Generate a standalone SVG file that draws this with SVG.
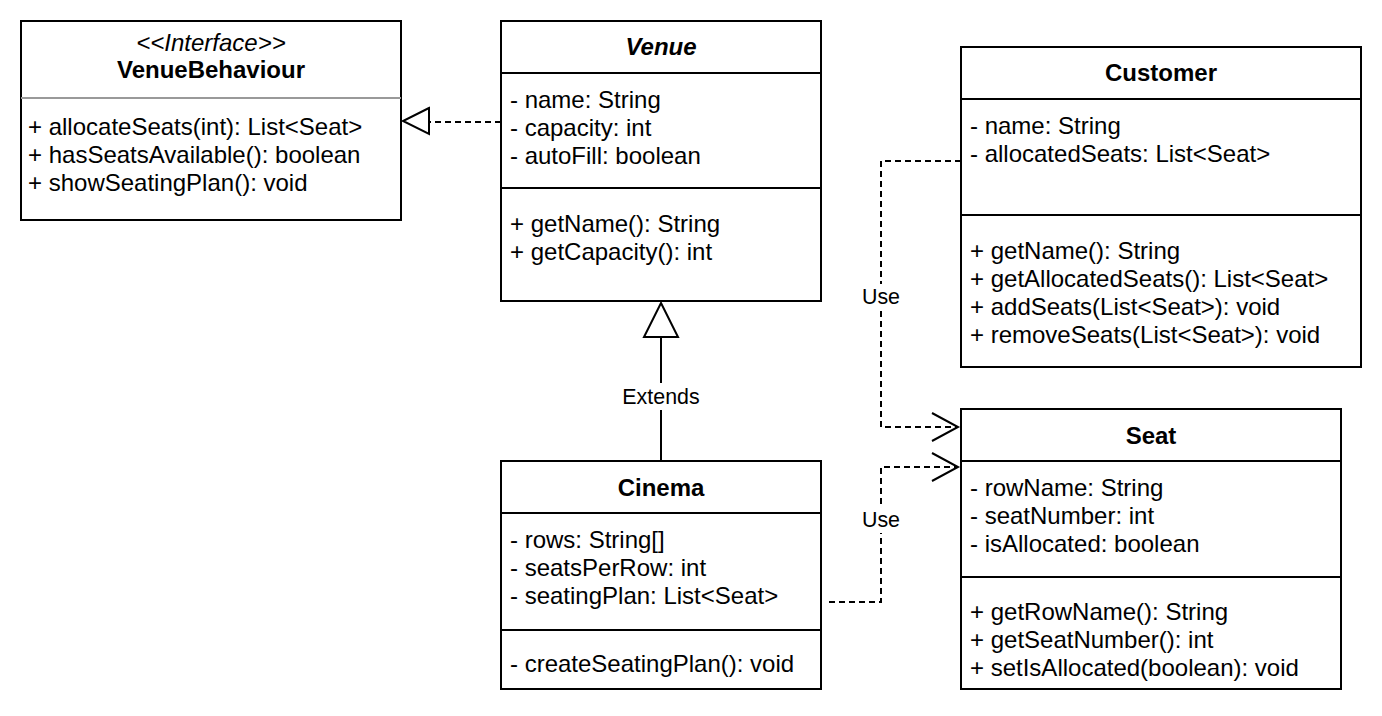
<svg xmlns="http://www.w3.org/2000/svg" width="1382" height="716" viewBox="0 0 1382 716">
<style>
.box{fill:#fff;stroke:#000;stroke-width:2}
.div{stroke:#000;stroke-width:2}
.t{font-family:"Liberation Sans",Arial,sans-serif;font-size:24px;fill:#000}
.title{font-weight:bold;text-anchor:middle}
.lbl{font-family:"Liberation Sans",Arial,sans-serif;font-size:21.4px;fill:#000;text-anchor:middle}
.edge{fill:none;stroke:#000;stroke-width:2}
.dash{stroke-dasharray:6 4}
</style>
<rect width="1382" height="716" fill="#fff"/>
<g id="connectors">
  <!-- Venue realizes VenueBehaviour -->
  <path class="edge dash" d="M501,122 L429,122"/>
  <path class="edge" d="M429,108 L403,121 L429,134 Z" fill="#fff"/>
  <!-- Cinema extends Venue -->
  <path class="edge" d="M661,461 L661,337"/>
  <path class="edge" d="M661,303 L678,337 L644,337 Z" fill="#fff"/>
  <rect x="618" y="383" width="86" height="27" fill="#fff"/>
  <text class="lbl" x="661" y="404">Extends</text>
  <!-- Customer uses Seat -->
  <path class="edge dash" d="M961,161 L881,161 L881,427 L958,427"/>
  <path class="edge" d="M932,413 L958,427 L932,441"/>
  <rect x="860" y="284" width="42" height="26" fill="#fff"/>
  <text class="lbl" x="881" y="304">Use</text>
  <!-- Cinema uses Seat -->
  <path class="edge dash" d="M829,602 L881,602 L881,467 L958,467"/>
  <path class="edge" d="M932,453 L958,467 L932,481"/>
  <rect x="860" y="507" width="42" height="26" fill="#fff"/>
  <text class="lbl" x="881" y="527">Use</text>
</g>
<g id="VenueBehaviour">
  <rect class="box" x="21" y="21" width="380" height="199"/>
  <line x1="21" y1="98" x2="401" y2="98" stroke="#999" stroke-width="2"/>
  <text class="t" x="211" y="51" text-anchor="middle" font-style="italic">&lt;&lt;Interface&gt;&gt;</text>
  <text class="t title" x="211" y="78">VenueBehaviour</text>
  <text class="t" x="28" y="135">+ allocateSeats(int): List&lt;Seat&gt;</text>
  <text class="t" x="28" y="163">+ hasSeatsAvailable(): boolean</text>
  <text class="t" x="28" y="191">+ showSeatingPlan(): void</text>
</g>
<g id="Venue">
  <rect class="box" x="501" y="21" width="320" height="280"/>
  <line class="div" x1="501" y1="73" x2="821" y2="73"/>
  <line class="div" x1="501" y1="188" x2="821" y2="188"/>
  <text class="t title" x="661" y="55" font-style="italic">Venue</text>
  <text class="t" x="510" y="108">- name: String</text>
  <text class="t" x="510" y="136">- capacity: int</text>
  <text class="t" x="510" y="164">- autoFill: boolean</text>
  <text class="t" x="510" y="232">+ getName(): String</text>
  <text class="t" x="510" y="260">+ getCapacity(): int</text>
</g>
<g id="Customer">
  <rect class="box" x="961" y="47" width="400" height="320"/>
  <line class="div" x1="961" y1="99" x2="1361" y2="99"/>
  <line class="div" x1="961" y1="215" x2="1361" y2="215"/>
  <text class="t title" x="1161" y="81">Customer</text>
  <text class="t" x="970" y="134">- name: String</text>
  <text class="t" x="970" y="162">- allocatedSeats: List&lt;Seat&gt;</text>
  <text class="t" x="970" y="259">+ getName(): String</text>
  <text class="t" x="970" y="287">+ getAllocatedSeats(): List&lt;Seat&gt;</text>
  <text class="t" x="970" y="315">+ addSeats(List&lt;Seat&gt;): void</text>
  <text class="t" x="970" y="343">+ removeSeats(List&lt;Seat&gt;): void</text>
</g>
<g id="Seat">
  <rect class="box" x="961" y="409" width="380" height="280"/>
  <line class="div" x1="961" y1="461" x2="1341" y2="461"/>
  <line class="div" x1="961" y1="577" x2="1341" y2="577"/>
  <text class="t title" x="1151" y="444">Seat</text>
  <text class="t" x="970" y="496">- rowName: String</text>
  <text class="t" x="970" y="524">- seatNumber: int</text>
  <text class="t" x="970" y="552">- isAllocated: boolean</text>
  <text class="t" x="970" y="620">+ getRowName(): String</text>
  <text class="t" x="970" y="648">+ getSeatNumber(): int</text>
  <text class="t" x="970" y="676">+ setIsAllocated(boolean): void</text>
</g>
<g id="Cinema">
  <rect class="box" x="501" y="461" width="320" height="228"/>
  <line class="div" x1="501" y1="513" x2="821" y2="513"/>
  <line class="div" x1="501" y1="630" x2="821" y2="630"/>
  <text class="t title" x="661" y="496">Cinema</text>
  <text class="t" x="510" y="548">- rows: String[]</text>
  <text class="t" x="510" y="576">- seatsPerRow: int</text>
  <text class="t" x="510" y="604">- seatingPlan: List&lt;Seat&gt;</text>
  <text class="t" x="510" y="672">- createSeatingPlan(): void</text>
</g>
</svg>
